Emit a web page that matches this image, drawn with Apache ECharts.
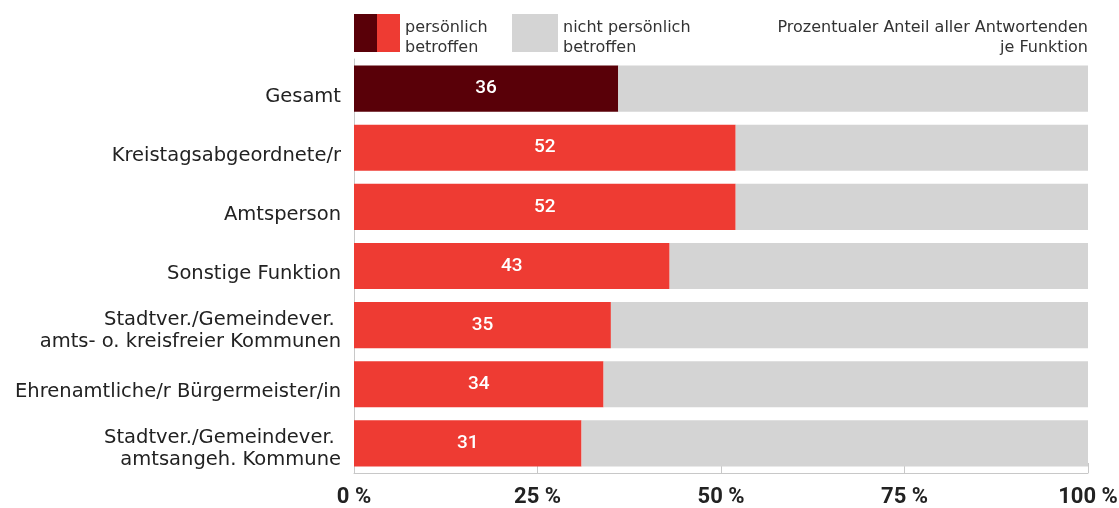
<!DOCTYPE html>
<html><head><meta charset="utf-8">
<script src="https://cdn.jsdelivr.net/npm/echarts@6/dist/echarts.min.js"></script>
<style>html,body{margin:0;padding:0;background:#fff}#c{width:1119px;height:508px}</style>
</head><body><div id="c"></div>
<script>
const categories = ["Gesamt","Kreistagsabgeordnete/r","Amtsperson","Sonstige Funktion","Stadtver./Gemeindever. \namts- o. kreisfreier Kommunen","Ehrenamtliche/r Bürgermeister/in","Stadtver./Gemeindever. \namtsangeh. Kommune"];
const betroffen = [36,52,52,43,35,34,31];
const nichtBetroffen = [64,48,48,57,65,66,69];
const xTicks = ["0 %","25 %","50 %","75 %","100 %"];
const FONT = "DejaVu Sans";
const NUMFONT = "Roboto";
const chart = echarts.init(document.getElementById('c'));
chart.setOption({
  animation:false,
  textStyle:{fontFamily:FONT},
  grid:{left:354,right:31,top:59,bottom:35,containLabel:false,outerBoundsMode:'none'},
  xAxis:{type:'value',min:0,max:100,interval:25,
    axisLine:{show:true,lineStyle:{color:'#c8c8c8',width:1}},
    axisTick:{show:true,inside:true,length:10,lineStyle:{color:'#c8c8c8'}},
    splitLine:{show:false},
    axisLabel:{margin:13,fontSize:22,fontWeight:'bold',color:'#222',fontFamily:NUMFONT,
      formatter:(v)=>xTicks[Math.round(v/25)]}},
  yAxis:{type:'category',data:categories,inverse:true,
    axisLine:{show:true,lineStyle:{color:'#c8c8c8',width:1}},
    axisTick:{show:false},
    axisLabel:{margin:13,color:'#222',align:'right',
      formatter:(v)=>{
        if(v.indexOf('\n')>=0){const p=v.split('\n');return '{d1|'+p[0]+'}\n{d2|'+p[1]+'}';}
        return '{s|'+v+'}';
      },
      rich:{
        s:{fontSize:19.5,fontFamily:FONT,color:'#222',lineHeight:24,padding:[16,0,0,0]},
        d1:{fontSize:19.5,fontFamily:FONT,color:'#222',lineHeight:34,verticalAlign:'bottom'},
        d2:{fontSize:19.5,fontFamily:FONT,color:'#222',lineHeight:24}
      }}},
  series:[
    {name:'persönlich betroffen',type:'bar',stack:'a',barCategoryGap:'22%',
     data:betroffen.map((v,i)=>({value:v,itemStyle:{color:i===0?'#590008':'#ee3b33'}})),
     label:{show:true,position:'inside',color:'#fff',fontSize:19,fontWeight:500,fontFamily:NUMFONT}},
    {name:'nicht persönlich betroffen',type:'bar',stack:'a',
     data:nichtBetroffen,itemStyle:{color:'#d4d4d4'}}
  ],
  graphic:[
    {type:'rect',shape:{x:354,y:14,width:23,height:38},style:{fill:'#590008'}},
    {type:'rect',shape:{x:377,y:14,width:23,height:38},style:{fill:'#ee3b33'}},
    {type:'text',x:405,y:18,style:{text:'persönlich\nbetroffen',font:'16px '+FONT,fill:'#333',lineHeight:20}},
    {type:'rect',shape:{x:512,y:14,width:46,height:38},style:{fill:'#d4d4d4'}},
    {type:'text',x:563,y:18,style:{text:'nicht persönlich\nbetroffen',font:'16px '+FONT,fill:'#333',lineHeight:20}},
    {type:'text',x:1088,y:18,style:{text:'Prozentualer Anteil aller Antwortenden\nje Funktion',font:'16px '+FONT,fill:'#333',lineHeight:20,align:'right'}}
  ]
});
</script></body></html>
